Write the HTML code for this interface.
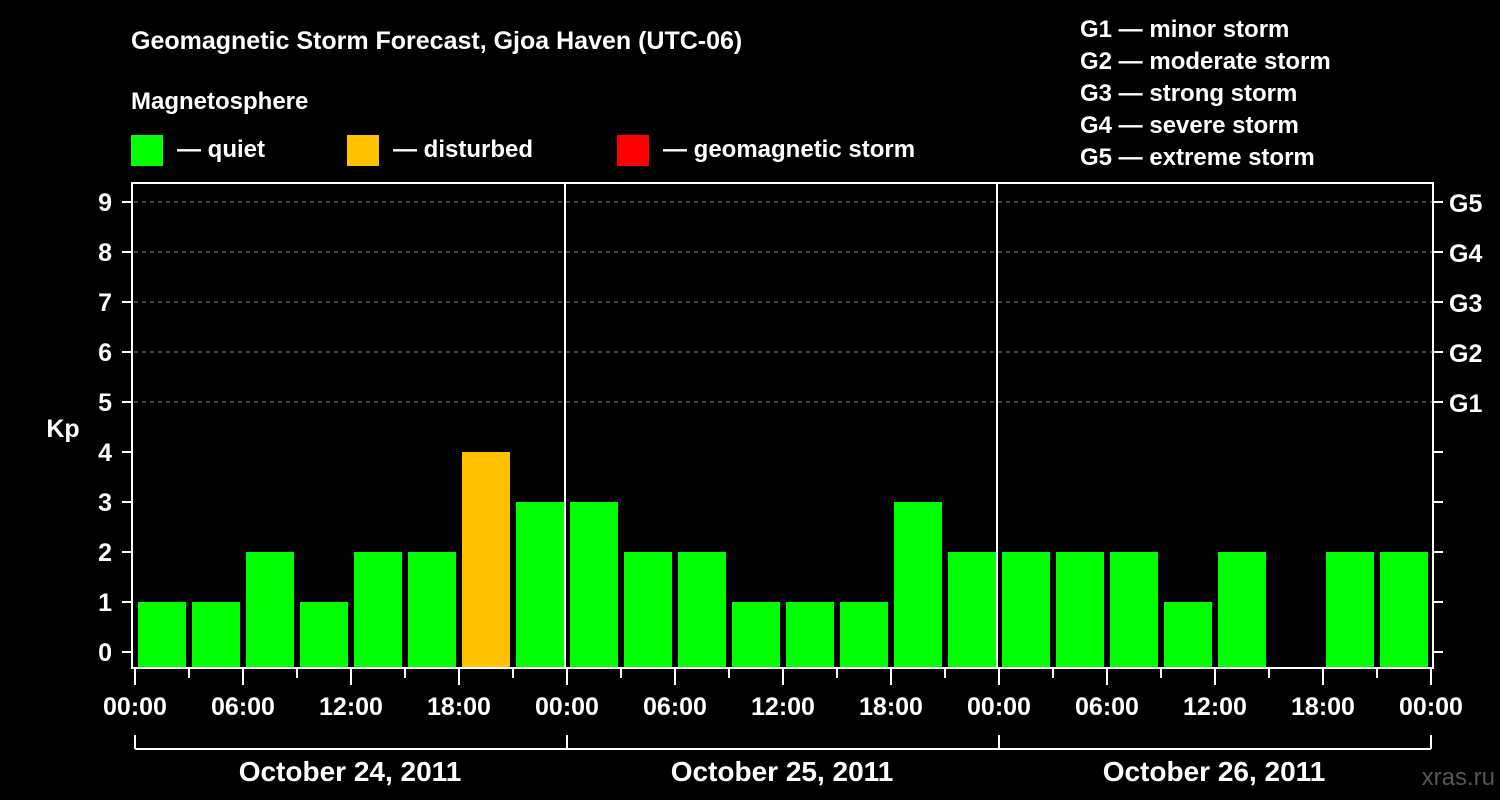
<!DOCTYPE html>
<html><head><meta charset="utf-8"><style>
html,body{margin:0;padding:0;background:#000;}
svg{display:block;font-family:"Liberation Sans",Arial,sans-serif;font-weight:bold;}
</style></head><body>
<svg id="chart" width="1500" height="800" viewBox="0 0 1500 800">
<rect width="1500" height="800" fill="#000"/>
<text x="131" y="49" font-size="25" fill="#fff">Geomagnetic Storm Forecast, Gjoa Haven (UTC-06)</text>
<text x="131" y="109" font-size="24" fill="#fff">Magnetosphere</text>
<g><rect x="131" y="135" width="32" height="31" fill="#00ff00"/><text x="177" y="157" font-size="24" fill="#fff">— quiet</text></g>
<g><rect x="347" y="135" width="32" height="31" fill="#ffc000"/><text x="393" y="157" font-size="24" fill="#fff">— disturbed</text></g>
<g><rect x="617" y="135" width="32" height="31" fill="#ff0000"/><text x="663" y="157" font-size="24" fill="#fff">— geomagnetic storm</text></g>
<g font-size="24" fill="#fff">
<text x="1080" y="37">G1 — minor storm</text>
<text x="1080" y="69">G2 — moderate storm</text>
<text x="1080" y="101">G3 — strong storm</text>
<text x="1080" y="133">G4 — severe storm</text>
<text x="1080" y="165">G5 — extreme storm</text>
</g>
<text x="63" y="437" font-size="25" fill="#fff" text-anchor="middle">Kp</text>
<text x="1495" y="785" font-size="24" fill="#555" text-anchor="end" font-weight="normal">xras.ru</text>
<g id="grid"></g><g id="bars"></g><g id="axes"></g>
</svg>
<script>
const kpValues = [1,1,2,1,2,2,4,3, 3,2,2,1,1,1,3,2, 2,2,2,1,2,0,2,2];
const yTicks = [0,1,2,3,4,5,6,7,8,9];
const gLabels = ["G1","G2","G3","G4","G5"];
const gLevels = [5,6,7,8,9];
const xTickLabels = ["00:00","06:00","12:00","18:00","00:00","06:00","12:00","18:00","00:00","06:00","12:00","18:00","00:00"];
const dayLabels = ["October 24, 2011","October 25, 2011","October 26, 2011"];

const NS="http://www.w3.org/2000/svg";
const X0=134, X1=1430, PT=183, PB=668;
const slot=(X1-X0)/kpValues.length;
function xs(i){return X0+i*slot;}
function ys(v){return 652-v*50;}
function mk(tag,attrs,parent){const e=document.createElementNS(NS,tag);for(const k in attrs)e.setAttribute(k,attrs[k]);parent.appendChild(e);return e;}
const grid=document.getElementById('grid'),bars=document.getElementById('bars'),axes=document.getElementById('axes');

gLevels.forEach((lv,i)=>{
  const l=mk('line',{x1:X0,x2:X1+2,y1:ys(lv),y2:ys(lv),stroke:'#888','stroke-dasharray':'4,4','stroke-width':1},grid);
  
  
  const t=mk('text',{x:1449,y:ys(lv)+10,'font-size':25,fill:'#fff'},axes);
  t.textContent=gLabels[i];
  
  
});

kpValues.forEach((v,i)=>{
  if(v<=0)return;
  const r=mk('rect',{x:xs(i)+4,y:ys(v),width:slot-6,height:PB-ys(v),fill:v>=5?'#ff0000':(v>=4?'#ffc000':'#00ff00')},bars);
  
  
});

// day separators
for(let d=1;d<dayLabels.length;d++){
  const x=xs(d*8)-1;
  const l=mk('line',{x1:x,x2:x,y1:PT,y2:PB,stroke:'#fff','stroke-width':2},axes);
  
  
}
// frame
const f=mk('rect',{x:132,y:PT,width:1433-132,height:PB-PT,fill:'none',stroke:'#fff','stroke-width':2},axes);



yTicks.forEach(v=>{
  mk('line',{x1:122,x2:132,y1:ys(v),y2:ys(v),stroke:'#fff','stroke-width':2},axes);
  mk('line',{x1:1433,x2:1443,y1:ys(v),y2:ys(v),stroke:'#fff','stroke-width':2},axes);
  const t=mk('text',{x:112,y:ys(v)+9,'font-size':25,fill:'#fff','text-anchor':'end'},axes);
  t.textContent=v;
  
  
});

for(let i=0;i<=kpValues.length;i++){
  const x=xs(i)+1, major=i%2===0;
  mk('line',{x1:x,x2:x,y1:PB+1,y2:major?PB+17:PB+10,stroke:'#fff','stroke-width':2},axes);
}
xTickLabels.forEach((s,i)=>{
  const t=mk('text',{x:xs(i*2)+1,y:715,'font-size':25,fill:'#fff','text-anchor':'middle'},axes);
  t.textContent=s;
  
  
});
// date bracket
mk('line',{x1:135,x2:1431,y1:749,y2:749,stroke:'#fff','stroke-width':2},axes);
for(let d=0;d<=dayLabels.length;d++){
  const x=xs(d*8)+1;
  mk('line',{x1:x,x2:x,y1:735,y2:749,stroke:'#fff','stroke-width':2},axes);
}
dayLabels.forEach((s,d)=>{
  const t=mk('text',{x:(xs(d*8)+xs(d*8+8))/2,y:781,'font-size':28,fill:'#fff','text-anchor':'middle'},axes);
  t.textContent=s;
  
  
});
</script>
</body></html>
